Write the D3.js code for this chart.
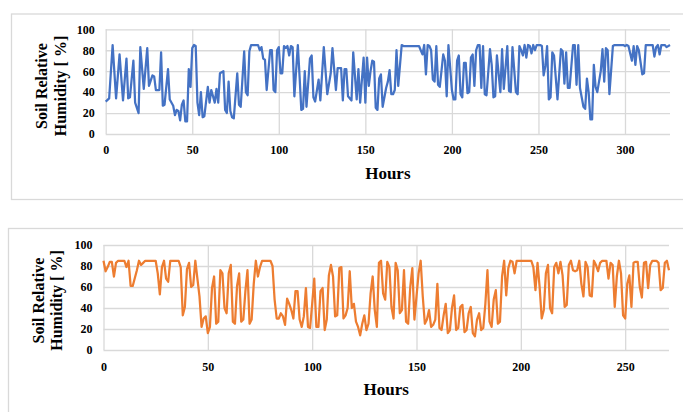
<!DOCTYPE html>
<html>
<head>
<meta charset="utf-8">
<script src="https://cdn.jsdelivr.net/npm/d3@7"></script>
<style>
  body { margin: 0; background: #fff; }
  text { font-family: "Liberation Serif", "Times New Roman", serif; font-weight: bold; fill: #000; }
</style>
</head>
<body>
<svg id="chart" width="683" height="412"></svg>
<script>
var hoursTop = [0,2,4,6,8,10,12,13,14,16,17,19,20,22,24,25,27,28,29,31,32,33,34,36,37,39,40,41,42,43,44,45,46,47,48,49,
  50,51,52,53,54,55,56,57,59,60,61,63,64,65,66,68,69,70,71,72,73,74,76,77,78,80,81,82,83,84,88,89,90,91,92,93,95,96,97,98,99,
  100,101,102,103,104,105,106,107,108,109,111,112,113,114,115,116,118,119,120,121,123,124,126,128,130,131,133,134,136,137,138,139,140,142,143,145,146,147,149,
  150,151,152,153,154,155,156,157,158,159,160,162,163,164,165,166,167,168,169,171,172,181,182,183,184,185,186,187,188,189,190,191,192,193,195,196,197,198,
  200,201,202,203,204,205,206,207,208,209,210,211,212,213,214,215,216,217,218,219,220,222,223,224,225,226,228,229,230,232,233,234,235,237,238,239,240,241,242,243,244,245,246,247,248,249,
  250,251,252,253,254,255,256,257,258,259,261,263,264,265,266,267,268,270,271,272,273,274,276,277,278,279,280,281,282,283,284,286,287,288,289,290,291,293,294,299,
  300,301,302,304,305,306,307,308,310,311,312,316,317,318,319,320,321,323,324,326];
var humidityTop = [31,34,85,34,76,32,72,34,35,70,30,20,83,43,82,46,56,55,42,42,78,27,28,62,33,27,18,23,22,13,28,32,12,12,62,45,
  82,85,84,30,18,40,16,17,45,30,42,30,43,30,58,60,23,20,50,22,16,15,58,28,26,79,40,37,79,85,85,80,83,72,71,42,80,80,42,40,80,
  83,58,58,84,82,84,75,84,83,36,85,55,23,24,60,26,72,75,35,31,52,32,83,38,58,82,42,63,63,32,62,62,36,32,78,33,62,30,73,
  30,73,46,60,70,69,25,23,53,57,26,44,50,61,38,38,42,80,46,85,84,84,80,76,85,57,85,84,80,52,50,84,47,45,76,70,36,85,
  42,33,33,70,75,38,35,68,68,39,40,73,76,46,80,85,85,44,84,38,37,81,66,35,36,75,40,81,43,84,41,40,83,40,38,84,80,75,85,73,85,84,77,85,80,85,
  85,85,84,56,65,84,33,35,78,75,33,81,79,48,78,44,44,85,85,47,85,44,26,24,53,40,14,14,66,45,40,60,81,50,82,80,38,84,85,85,
  84,85,84,70,84,66,84,80,57,58,85,85,74,83,85,76,85,85,83,85];

// second (orange) record
var hoursBottom = [0,1,2,3,4,5,6,7,10,11,12,13,14,16,17,18,19,20,25,26,27,28,29,30,31,32,36,37,38,39,40,41,42,43,44,45,46,47,48,49,
  50,51,52,53,54,55,56,57,58,59,60,61,62,63,64,65,66,67,68,69,70,71,72,73,74,75,76,80,81,82,83,84,85,86,87,88,89,90,91,92,93,94,95,96,97,98,99,
  100,101,102,103,104,105,106,107,108,109,110,111,112,113,114,115,116,117,118,119,120,121,122,123,124,125,126,127,128,129,130,131,132,133,134,135,136,137,138,139,140,141,142,143,144,145,146,147,148,149,
  150,151,152,153,154,155,156,157,158,159,160,161,162,163,164,165,166,167,168,169,170,171,172,173,174,175,176,177,178,179,180,181,182,183,184,185,186,187,188,189,190,191,192,193,194,195,196,197,198,199,
  205,206,207,208,209,210,211,212,213,214,215,216,217,218,219,220,221,222,223,224,225,226,227,228,229,230,231,232,233,234,235,236,237,238,239,241,242,243,244,245,246,247,248,249,
  250,251,252,253,254,255,256,257,258,259,260,261,262,263,265,266,267,268,269,270,271];
var humidityBottom = [85,75,79,84,84,70,83,85,85,79,85,61,61,76,85,81,83,85,85,73,53,79,85,68,65,85,85,79,33,41,77,83,60,62,85,68,51,22,30,32,
  16,22,59,70,25,27,76,73,40,35,73,81,27,25,61,73,27,29,56,76,25,29,63,85,70,79,85,85,80,48,30,30,35,32,24,49,44,38,30,56,56,29,22,32,59,22,21,
  44,68,22,22,56,59,19,29,71,81,70,32,33,78,79,30,33,40,75,40,44,27,22,14,25,33,19,25,54,70,38,22,83,85,54,48,84,79,41,30,83,76,35,38,76,27,25,60,78,29,
  51,73,85,51,25,29,38,22,24,29,63,21,19,33,44,16,19,40,52,19,21,41,43,17,19,35,41,16,13,29,35,19,21,44,76,27,22,48,57,25,27,70,85,52,78,85,84,73,85,85,
  85,79,57,83,60,30,38,73,81,40,35,79,83,73,84,71,41,43,81,85,76,75,76,85,63,51,84,79,52,51,85,81,75,83,85,85,68,83,81,41,70,85,73,33,
  30,63,71,41,83,84,84,60,50,83,84,59,81,85,85,83,57,59,83,85,76];

var yTicks = [0, 20, 40, 60, 80, 100];
var xTicksTop = [0, 50, 100, 150, 200, 250, 300];
var xTicksBottom = [0, 50, 100, 150, 200, 250];
var yTitle = ["Soil Relative", "Humidity [ %]"];
var xTitle = "Hours";

var svg = d3.select("#chart");
var gridColor = "#d9d9d9";

function drawPanel(p) {
  // outer frame of the chart area
  svg.append("rect")
    .attr("x", p.box[0]).attr("y", p.box[1])
    .attr("width", p.box[2]).attr("height", p.box[3])
    .attr("fill", "#fff").attr("stroke", gridColor).attr("stroke-width", 1.3);

  var x = d3.scaleLinear().domain([0, p.xMax]).range([p.left, p.right]);
  var y = d3.scaleLinear().domain([0, 100]).range([p.bottom, p.top]);

  var yAxis = d3.axisLeft(y).tickValues(yTicks)
    .tickSizeInner(-(p.right - p.left)).tickSizeOuter(0).tickPadding(11);
  var gy = svg.append("g").attr("transform", "translate(" + p.left + ",0)").call(yAxis);

  var xAxis = d3.axisBottom(x).tickValues(p.xTicks)
    .tickSizeInner(-(p.bottom - p.top)).tickSizeOuter(0).tickPadding(p.xPad);
  var gx = svg.append("g").attr("transform", "translate(0," + p.bottom + ")").call(xAxis);

  [gx, gy].forEach(function (g) {
    g.select(".domain").remove();
    g.selectAll(".tick line").attr("stroke", gridColor).attr("stroke-width", 1.3);
    g.selectAll(".tick text").style("font-size", "12px").attr("fill", "#000");
  });

  var line = d3.line()
    .x(function (d) { return x(d[0]); })
    .y(function (d) { return y(d[1]); });

  svg.append("path")
    .datum(d3.zip(p.hours, p.values))
    .attr("d", line)
    .attr("fill", "none")
    .attr("stroke", p.color)
    .attr("stroke-width", 2.25)
    .attr("stroke-linejoin", "round");

  // rotated two-line title
  var ty = svg.append("text")
    .attr("transform", "translate(" + p.titleX + "," + p.titleY + ") rotate(-90)")
    .attr("text-anchor", "middle")
    .style("font-size", "16px");
  ty.selectAll("tspan").data(yTitle).enter().append("tspan")
    .attr("x", 0).attr("y", function (d, i) { return i * 18.5; })
    .text(function (d) { return d; });

  svg.append("text")
    .attr("x", (p.left + p.right) / 2).attr("y", p.hoursY)
    .attr("text-anchor", "middle")
    .style("font-size", "17px")
    .text(xTitle);
}

drawPanel({
  box: [11.5, 14, 700, 185.5],
  left: 105.7, right: 670, top: 29.3, bottom: 134,
  xMax: 326, xTicks: xTicksTop, xPad: 11.5,
  hours: hoursTop, values: humidityTop, color: "#4472C4",
  titleX: 47, titleY: 86, hoursY: 179
});

drawPanel({
  box: [8.5, 228.5, 700, 200],
  left: 103.5, right: 669, top: 245, bottom: 350,
  xMax: 271, xTicks: xTicksBottom, xPad: 12,
  hours: hoursBottom, values: humidityBottom, color: "#ED7D31",
  titleX: 43.5, titleY: 300.5, hoursY: 394.5
});
</script>
</body>
</html>
